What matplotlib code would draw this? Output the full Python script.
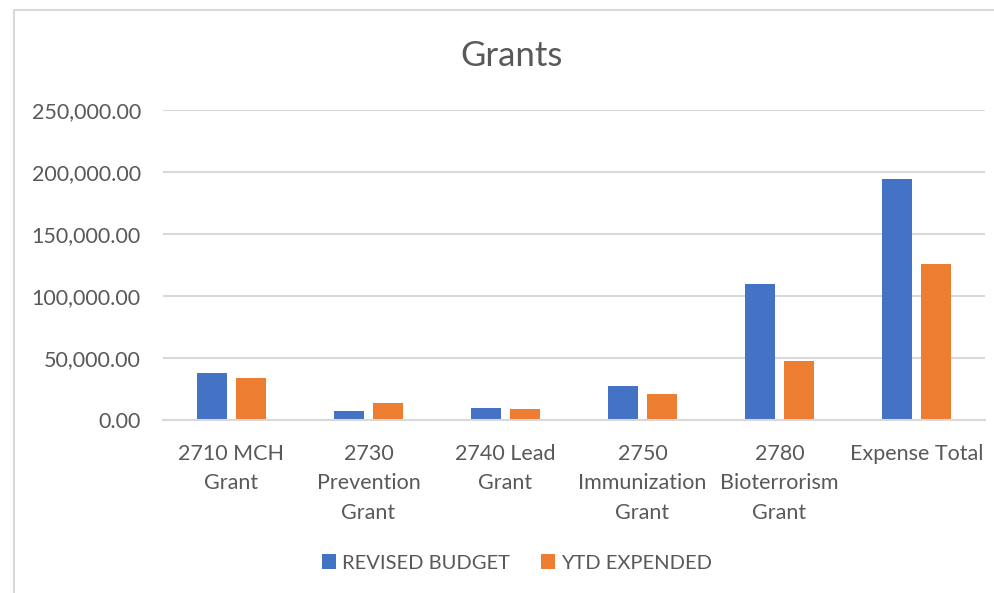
"""
Grants chart: revised budget vs YTD expended by grant
"""

### Import modules
import numpy as np
import matplotlib.pyplot as plt
from matplotlib.patches import Rectangle
from matplotlib.ticker import FuncFormatter

### Data
categories = ['2710 MCH\nGrant', '2730\nPrevention\nGrant', '2740 Lead\nGrant',
              '2750\nImmunization\nGrant', '2780\nBioterrorism\nGrant',
              'Expense Total']
revised_budget = [38100, 7500, 9900, 27400, 109900, 194500]
ytd_expended = [33900, 13400, 8900, 20700, 47300, 126000]
yticks = [0, 50000, 100000, 150000, 200000, 250000]

### Plot figure
plt.rc('font', family=['Lato', 'DejaVu Sans'])
textcolor = '#595959'
gridcolor = '#d9d9d9'

fig = plt.figure(figsize=(9.94, 5.93), dpi=100)
ax = fig.add_axes([163/994, 1-420/593, 822/994, 310/593])

x = np.arange(len(categories))
w = 0.219
off = 0.142
ax.bar(x-off, revised_budget, w, color='#4472C4', label='REVISED BUDGET',
       zorder=2)
ax.bar(x+off, ytd_expended, w, color='#ED7D31', label='YTD EXPENDED',
       zorder=2)

ax.set_xlim(-0.5, len(categories)-0.5)
ax.set_ylim(0, 250000)
ax.set_yticks(yticks)
ax.yaxis.set_major_formatter(FuncFormatter(lambda v, p: '{:,.2f}'.format(v)))
ax.set_xticks(x)
ax.set_xticklabels(categories, linespacing=1.6)
ax.tick_params(axis='both', length=0, labelsize=15.5, colors=textcolor)
ax.tick_params(axis='y', pad=16)
ax.tick_params(axis='x', pad=17)

for s in ['top', 'right', 'left']:
    ax.spines[s].set_visible(False)
ax.spines['bottom'].set_color(gridcolor)
ax.spines['bottom'].set_linewidth(1.5)
ax.yaxis.grid(True, color=gridcolor, linewidth=1.5, zorder=0)
ax.set_axisbelow(True)

fig.text(512/994, 1-56/593, 'Grants', fontsize=25, color=textcolor,
         ha='center', va='center')

le = ax.legend(loc='center', bbox_to_anchor=(517/994, 1-563/593),
               bbox_transform=fig.transFigure, ncol=2, frameon=False,
               fontsize=14.5, handlelength=0.7, handleheight=0.7,
               handletextpad=0.3, columnspacing=1.55)
for t in le.get_texts():
    t.set_color(textcolor)

### Chart border
fig.patches.append(Rectangle((14/994, -0.1), 1.2, 1-10/593+0.1,
                             transform=fig.transFigure, fill=False,
                             edgecolor=gridcolor, linewidth=1.5))

plt.savefig('out.png', dpi=100, facecolor='white')
